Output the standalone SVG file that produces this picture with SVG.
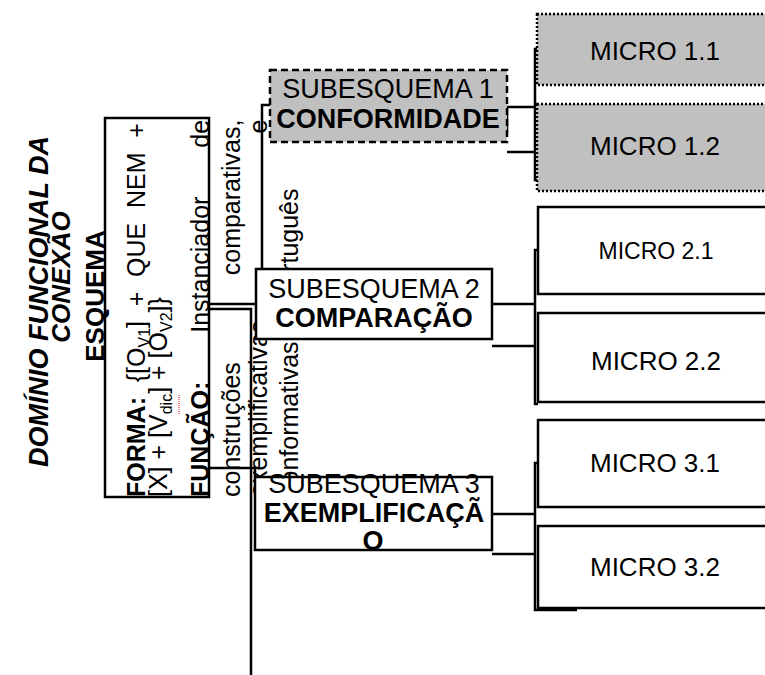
<svg xmlns="http://www.w3.org/2000/svg" width="765" height="675" viewBox="0 0 765 675">
<style>
text{font-family:"Liberation Sans",Arial,sans-serif;fill:#000}
.b{font-weight:bold}
.sub{font-size:27px}
.mic{font-size:26px}
.ln{stroke:#000;stroke-width:2.5;fill:none}
.box{fill:#fff;stroke:#000;stroke-width:2.5}
.gray{fill:#c0c0c0;stroke:#000;stroke-width:2.5}
.dash{stroke-dasharray:7 4}
.dot{stroke-dasharray:2 2}
</style>
<rect x="0" y="0" width="765" height="675" fill="#fff"/>

<g id="titulo" transform="rotate(-90)">
  <text x="-467" y="48" font-size="27" font-weight="bold" font-style="italic">DOMÍNIO FUNCIONAL DA</text>
  <text x="-277" y="70" font-size="26" font-weight="bold" font-style="italic" text-anchor="middle">CONEXÃO</text>
</g>

<g id="esquema">
  <rect x="105" y="118" width="104" height="379" fill="none" stroke="#000" stroke-width="2.5"/>
  <g transform="rotate(-90)" font-size="25">
    <text x="-296" y="104" class="b" font-size="26" text-anchor="middle">ESQUEMA</text>
    <text x="-497" y="145" style="word-spacing:7.8px"><tspan class="b">FORMA:</tspan> {[O<tspan font-size="16" dy="5">V1</tspan><tspan dy="-5">] + QUE NEM +</tspan></text>
    <text x="-497" y="167">[X] + [V<tspan font-size="16" dy="5">dic</tspan><tspan dy="-5">] + [O</tspan><tspan font-size="16" dy="5">V2</tspan><tspan dy="-5">]}</tspan></text>
    <line x1="-414" y1="179" x2="-394" y2="179" stroke="#e00" stroke-width="1" stroke-dasharray="1 1"/>
    <text x="-497" y="209" style="word-spacing:42px"><tspan class="b">FUNÇÃO:</tspan> Instanciador de</text>
    <text x="-497" y="240" style="word-spacing:80px">construções comparativas,</text>
    <text x="-497" y="267" style="word-spacing:180px">exemplificativas e</text>
    <text x="-497" y="298">conformativas do português</text>
  </g>
</g>

<g id="conectores">
  <path class="ln" d="M270 105H262V300"/>
  <path class="ln" d="M209 304H256"/>
  <path class="ln" d="M209 309H251V675"/>
  <path class="ln" d="M209 468H255V477"/>
  <path class="ln" d="M507 106V133M507 107H535M507 152H535M538 49H535V180H538"/>
  <path class="ln" d="M492 304H535M492 346H535M538 250H535V404H538"/>
  <path class="ln" d="M492 514H535M492 554H535M538 463H535V610H577"/>
</g>

<g id="sub1">
  <rect x="270" y="70" width="237" height="72" class="gray dash"/>
  <text x="388" y="98" class="sub" text-anchor="middle">SUBESQUEMA 1</text>
  <text x="388" y="128" class="sub b" text-anchor="middle">CONFORMIDADE</text>
</g>
<g id="sub2">
  <rect x="256" y="269" width="236" height="70" class="box"/>
  <text x="374" y="298" class="sub" text-anchor="middle">SUBESQUEMA 2</text>
  <text x="374" y="327" class="sub b" text-anchor="middle">COMPARAÇÃO</text>
</g>
<g id="sub3">
  <rect x="255" y="477" width="237" height="73" class="box"/>
  <text x="374" y="493" class="sub" text-anchor="middle">SUBESQUEMA 3</text>
  <text x="374" y="522" class="sub b" text-anchor="middle">EXEMPLIFICAÇÃ</text>
  <text x="373" y="550" class="sub b" text-anchor="middle">O</text>
</g>

<g id="micro11">
  <rect x="537" y="14" width="240" height="71" class="gray dot"/>
  <text x="655" y="60" class="mic" text-anchor="middle">MICRO 1.1</text>
</g>
<g id="micro12">
  <rect x="537" y="104" width="240" height="87" class="gray dot"/>
  <text x="655" y="155" class="mic" text-anchor="middle">MICRO 1.2</text>
</g>
<g id="micro21">
  <rect x="538" y="207" width="240" height="87" class="box"/>
  <text x="656" y="259" font-size="23" text-anchor="middle">MICRO 2.1</text>
</g>
<g id="micro22">
  <rect x="538" y="313" width="240" height="89" class="box"/>
  <text x="656" y="370" class="mic" text-anchor="middle">MICRO 2.2</text>
</g>
<g id="micro31">
  <rect x="538" y="420" width="240" height="87" class="box"/>
  <text x="655" y="472" class="mic" text-anchor="middle">MICRO 3.1</text>
</g>
<g id="micro32">
  <rect x="538" y="526" width="240" height="82" class="box"/>
  <text x="655" y="576" class="mic" text-anchor="middle">MICRO 3.2</text>
</g>
</svg>
